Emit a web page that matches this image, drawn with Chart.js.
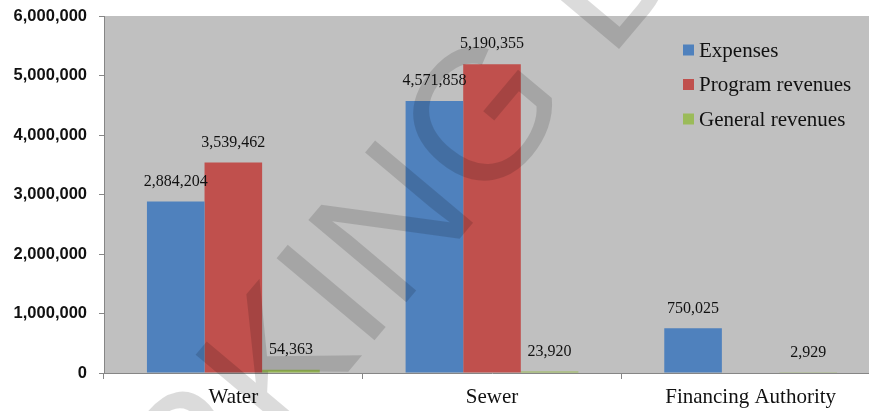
<!DOCTYPE html>
<html>
<head>
<meta charset="utf-8">
<script src="https://cdn.jsdelivr.net/npm/chart.js@4"></script>
<style>
  html, body { margin: 0; padding: 0; background: #fff; overflow: hidden; }
  #wrap { width: 880px; height: 411px; }
</style>
</head>
<body>
<div id="wrap"><canvas id="chart"></canvas></div>
<script>
const categories = ['Water', 'Sewer', 'Financing Authority'];
const expenses = [2884204, 4571858, 750025];
const programRevenues = [3539462, 5190355, null];
const generalRevenues = [54363, 23920, 2929];
const seriesNames = ['Expenses', 'Program revenues', 'General revenues'];
const seriesColors = ['#4F81BD', '#C0504D', '#9BBB59'];

const serif = '"Liberation Serif", "Times New Roman", serif';

// gray plot background
const plotBackground = {
    id: 'plotBackground',
    beforeDraw(chart) {
        const { ctx, chartArea: a } = chart;
        ctx.save();
        ctx.fillStyle = '#C0C0C0';
        ctx.fillRect(a.left, a.top, a.right - a.left, a.bottom - a.top);
        ctx.restore();
    }
};

// value labels above bars
const valueLabels = {
    id: 'valueLabels',
    afterDatasetsDraw(chart) {
        const ctx = chart.ctx;
        ctx.save();
        ctx.font = '16px ' + serif;
        ctx.fillStyle = '#111';
        ctx.textAlign = 'center';
        ctx.textBaseline = 'middle';
        chart.data.datasets.forEach((ds, i) => {
            chart.getDatasetMeta(i).data.forEach((bar, j) => {
                const v = ds.data[j];
                if (v === null) return;
                ctx.fillText(v.toLocaleString('en-US'), bar.x, bar.y - 20);
            });
        });
        ctx.restore();
    }
};

// legend inside the plot, top right
const innerLegend = {
    id: 'innerLegend',
    afterDraw(chart) {
        const { ctx, chartArea: a } = chart;
        ctx.save();
        ctx.font = '21px ' + serif;
        ctx.textBaseline = 'middle';
        ctx.textAlign = 'left';
        chart.data.datasets.forEach((ds, i) => {
            const x = a.right - 197;
            const y = a.top + 34 + i * 34.5;
            ctx.fillStyle = ds.backgroundColor;
            ctx.fillRect(x, y - 5.5, 11, 11);
            ctx.fillStyle = '#111';
            ctx.fillText(ds.label, x + 16, y + 1);
        });
        ctx.restore();
    }
};

// diagonal watermark
const watermark = {
    id: 'watermark',
    afterDraw(chart) {
        const ctx = chart.ctx;
        const size = 186;
        ctx.save();
        ctx.font = size + 'px "Liberation Sans", Arial, sans-serif';
        ctx.fillStyle = 'rgba(0, 0, 0, 0.14)';
        ctx.textBaseline = 'alphabetic';
        ctx.textAlign = 'left';
        ctx.translate(329, 291);
        ctx.rotate(-50 * Math.PI / 180);
        const before = ctx.measureText('WORK').width + ctx.measureText('I').width / 2;
        ctx.fillText('WORKING DRAFT', -before, size * 0.716 / 2);
        ctx.restore();
    }
};

new Chart(document.getElementById('chart'), {
    type: 'bar',
    data: {
        labels: categories,
        datasets: [
            { label: seriesNames[0], data: expenses, backgroundColor: seriesColors[0] },
            { label: seriesNames[1], data: programRevenues, backgroundColor: seriesColors[1] },
            { label: seriesNames[2], data: generalRevenues, backgroundColor: seriesColors[2] }
        ]
    },
    options: {
        responsive: true,
        maintainAspectRatio: false,
        animation: false,
        categoryPercentage: 0.668,
        barPercentage: 1.0,
        layout: { padding: { top: 16, right: 0, left: 0, bottom: 0 } },
        plugins: {
            legend: { display: false },
            tooltip: { enabled: false }
        },
        scales: {
            x: {
                offset: true,
                grid: {
                    offset: true,
                    drawOnChartArea: false,
                    drawTicks: true,
                    tickLength: 6,
                    color: '#868686'
                },
                border: { display: true, color: '#868686', width: 1 },
                ticks: {
                    color: '#111',
                    padding: 6,
                    font: { family: serif, size: 21 }
                },
                afterFit(scale) {
                    scale.height = 38;
                    scale.paddingLeft = 0;
                    scale.paddingRight = 0;
                }
            },
            y: {
                min: 0,
                max: 6000000,
                grid: {
                    drawOnChartArea: false,
                    drawTicks: true,
                    tickLength: 5,
                    color: '#868686'
                },
                border: { display: true, color: '#868686', width: 1 },
                ticks: {
                    stepSize: 1000000,
                    color: '#111',
                    padding: 12,
                    font: { family: '"Liberation Sans", Arial, sans-serif', size: 16.5, weight: 'bold' },
                    callback: v => v.toLocaleString('en-US')
                },
                afterFit(scale) {
                    scale.width = 104;
                    scale.paddingTop = 0;
                    scale.paddingBottom = 0;
                }
            }
        }
    },
    plugins: [plotBackground, valueLabels, innerLegend, watermark]
});
</script>
</body>
</html>
